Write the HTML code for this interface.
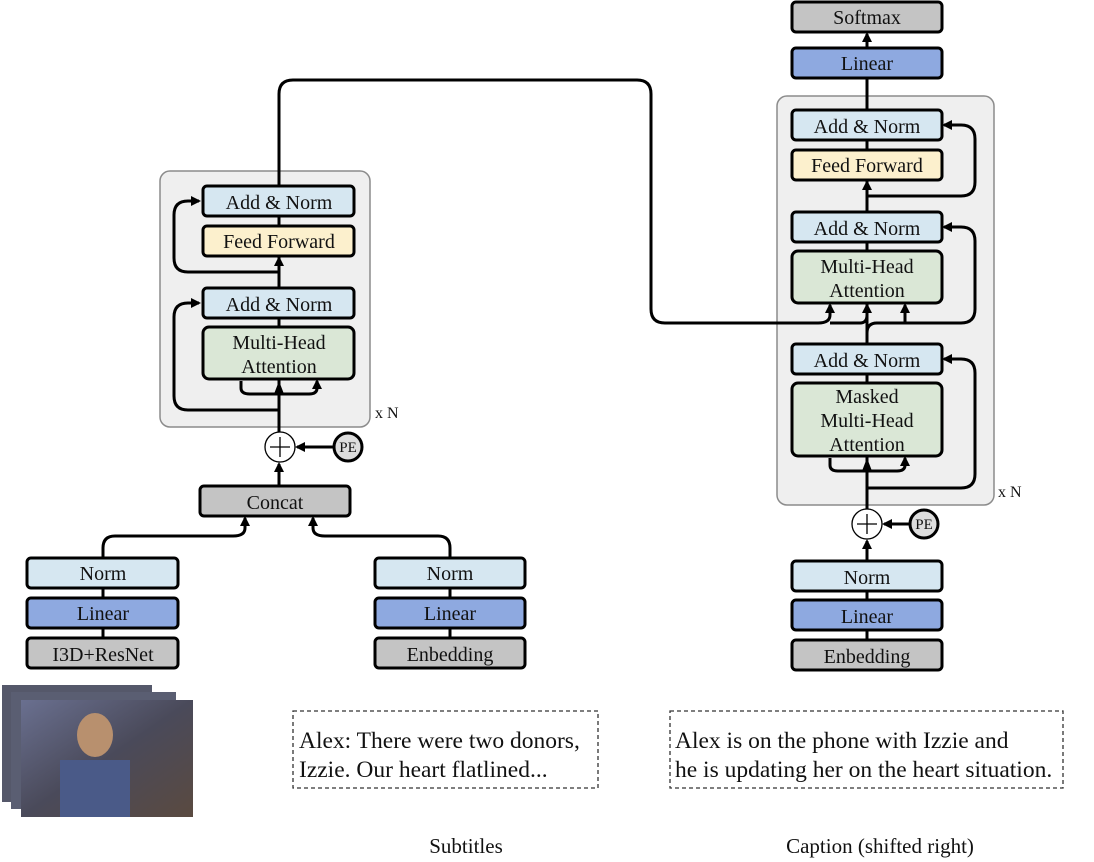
<!DOCTYPE html><html><head><style>body{margin:0;background:#fff}svg{display:block}text{font-family:"Liberation Serif",serif;fill:#111}</style></head><body>
<svg width="1094" height="862" viewBox="0 0 1094 862" xmlns="http://www.w3.org/2000/svg">
<defs><marker id="a" markerWidth="11" markerHeight="10" refX="8" refY="5" orient="auto" markerUnits="userSpaceOnUse"><path d="M0,0L10,5L0,10z" fill="#000"/></marker>
<linearGradient id="img" x1="0" y1="0" x2="1" y2="1"><stop offset="0" stop-color="#6a7090"/><stop offset="0.5" stop-color="#4a4a5a"/><stop offset="1" stop-color="#5a4a40"/></linearGradient></defs>
<g fill="#efefef" stroke="#8c8c8c" stroke-width="1.5"><rect x="160" y="171" width="210" height="256" rx="10"/><rect x="777" y="96" width="217" height="409" rx="10"/></g>
<g stroke="#000" stroke-width="3" fill="none">
<path d="M279,433V186"/>
<path d="M103,588V638M450,588V638M867,591V640"/>
<path d="M279,410H188Q174,410 174,396V317Q174,303 188,303H199" marker-end="url(#a)"/>
<path d="M279,272H188Q174,272 174,258V215Q174,201 188,201H199" marker-end="url(#a)"/>
<path d="M279,272V258" marker-end="url(#a)"/>
<path d="M241,381V388Q241,394 250,394H309Q317,394 317,388V381" marker-end="url(#a)"/>
<path d="M334,447H297" marker-end="url(#a)"/>
<path d="M279,486V464" marker-end="url(#a)"/>
<path d="M103,558V548Q103,536 115,536H233Q245,536 245,528V518" marker-end="url(#a)"/>
<path d="M450,558V548Q450,536 438,536H325Q313,536 313,528V518" marker-end="url(#a)"/>
<path d="M279,186V94Q279,80 293,80H637Q651,80 651,94V309Q651,323 665,323H818Q830,323 830,315V305" marker-end="url(#a)"/>
<path d="M830,323H860Q867,323 867,315V305" marker-end="url(#a)"/>
<path d="M867,561V541" marker-end="url(#a)"/>
<path d="M910,524H884" marker-end="url(#a)"/>
<path d="M867,509V48"/><path d="M867,48V34" marker-end="url(#a)"/>
<path d="M867,488H961Q975,488 975,474V373Q975,359 961,359H944" marker-end="url(#a)"/>
<path d="M830,458V465Q830,471 838,471H897Q905,471 905,465V458" marker-end="url(#a)"/>
<path d="M867,344V333Q867,323 877,323H905V305" marker-end="url(#a)"/>
<path d="M905,323H961Q975,323 975,309V241Q975,227 961,227H944" marker-end="url(#a)"/>
<path d="M867,196H961Q975,196 975,182V139Q975,125 961,125H944" marker-end="url(#a)"/>
<path d="M867,196V182" marker-end="url(#a)"/>
</g>
<g stroke="#000" stroke-width="3">
<rect x="203" y="186" width="151" height="30" rx="4" fill="#d6e7f1"/>
<rect x="203" y="226" width="151" height="30" rx="4" fill="#fcf0cd"/>
<rect x="203" y="288" width="151" height="30" rx="4" fill="#d6e7f1"/>
<rect x="203" y="327" width="151" height="52" rx="6" fill="#dae7d6"/>
<rect x="200" y="486" width="150" height="30" rx="4" fill="#c4c4c4"/>
<rect x="27" y="558" width="151" height="30" rx="4" fill="#d6e7f1"/>
<rect x="27" y="598" width="151" height="30" rx="4" fill="#8ea9e0"/>
<rect x="27" y="638" width="151" height="30" rx="4" fill="#c4c4c4"/>
<rect x="375" y="558" width="150" height="30" rx="4" fill="#d6e7f1"/>
<rect x="375" y="598" width="150" height="30" rx="4" fill="#8ea9e0"/>
<rect x="375" y="638" width="150" height="30" rx="4" fill="#c4c4c4"/>
<rect x="792" y="2" width="150" height="30" rx="4" fill="#c4c4c4"/>
<rect x="792" y="48" width="150" height="30" rx="4" fill="#8ea9e0"/>
<rect x="792" y="110" width="150" height="30" rx="4" fill="#d6e7f1"/>
<rect x="792" y="150" width="150" height="30" rx="4" fill="#fcf0cd"/>
<rect x="792" y="212" width="150" height="30" rx="4" fill="#d6e7f1"/>
<rect x="792" y="251" width="150" height="52" rx="6" fill="#dae7d6"/>
<rect x="792" y="344" width="150" height="30" rx="4" fill="#d6e7f1"/>
<rect x="792" y="383" width="150" height="73" rx="6" fill="#dae7d6"/>
<rect x="792" y="561" width="150" height="30" rx="4" fill="#d6e7f1"/>
<rect x="792" y="600" width="150" height="30" rx="4" fill="#8ea9e0"/>
<rect x="792" y="640" width="150" height="30" rx="4" fill="#c4c4c4"/>
<circle cx="348" cy="447" r="14" fill="#ddd"/><circle cx="924" cy="524" r="14" fill="#ddd"/>
</g>
<path d="M274,394L279,381L284,394zM862,471L867,458L872,471z" fill="#000"/>
<g stroke="#000" stroke-width="1.3" fill="#fff"><circle cx="280" cy="447" r="15"/><circle cx="867" cy="524" r="15"/><path d="M270,447H290M280,437V457M857,524H877M867,514V534" fill="none"/></g>
<g font-size="20" text-anchor="middle">
<text x="279" y="209">Add &amp; Norm</text><text x="279" y="248">Feed Forward</text><text x="279" y="311">Add &amp; Norm</text>
<text x="279" y="349">Multi-Head</text><text x="279" y="373">Attention</text>
<text x="275" y="509">Concat</text><text x="103" y="580">Norm</text><text x="103" y="620">Linear</text><text x="103" y="661">I3D+ResNet</text>
<text x="450" y="580">Norm</text><text x="450" y="620">Linear</text><text x="450" y="661">Enbedding</text>
<text x="867" y="24">Softmax</text><text x="867" y="70">Linear</text><text x="867" y="133">Add &amp; Norm</text><text x="867" y="172">Feed Forward</text>
<text x="867" y="235">Add &amp; Norm</text><text x="867" y="273">Multi-Head</text><text x="867" y="297">Attention</text>
<text x="867" y="367">Add &amp; Norm</text><text x="867" y="403">Masked</text><text x="867" y="427">Multi-Head</text><text x="867" y="451">Attention</text>
<text x="867" y="584">Norm</text><text x="867" y="623">Linear</text><text x="867" y="663">Enbedding</text>
<text x="466" y="853" font-size="21">Subtitles</text><text x="880" y="853" font-size="21">Caption (shifted right)</text>
</g>
<g font-size="15"><text x="348" y="452" text-anchor="middle">PE</text><text x="924" y="529" text-anchor="middle">PE</text>
<text x="375" y="418" font-size="16">x N</text><text x="998" y="497" font-size="16">x N</text></g>
<g fill="none" stroke="#333" stroke-width="1.3" stroke-dasharray="4,3"><rect x="293" y="711" width="305" height="77"/><rect x="670" y="711" width="393" height="77"/></g>
<g font-size="23.5"><text x="299" y="748">Alex: There were two donors,</text><text x="299" y="777">Izzie. Our heart flatlined...</text>
<text x="675" y="748">Alex is on the phone with Izzie and</text><text x="675" y="777">he is updating her on the heart situation.</text></g>
<rect x="2" y="685" width="150" height="117" fill="#55586a"/><rect x="11" y="692" width="165" height="117" fill="#5a5e72"/><rect x="21" y="700" width="172" height="117" fill="url(#img)"/>
<ellipse cx="95" cy="735" rx="18" ry="22" fill="#b8906e"/><rect x="60" y="760" width="70" height="57" fill="#4a5a88"/>
</svg></body></html>
